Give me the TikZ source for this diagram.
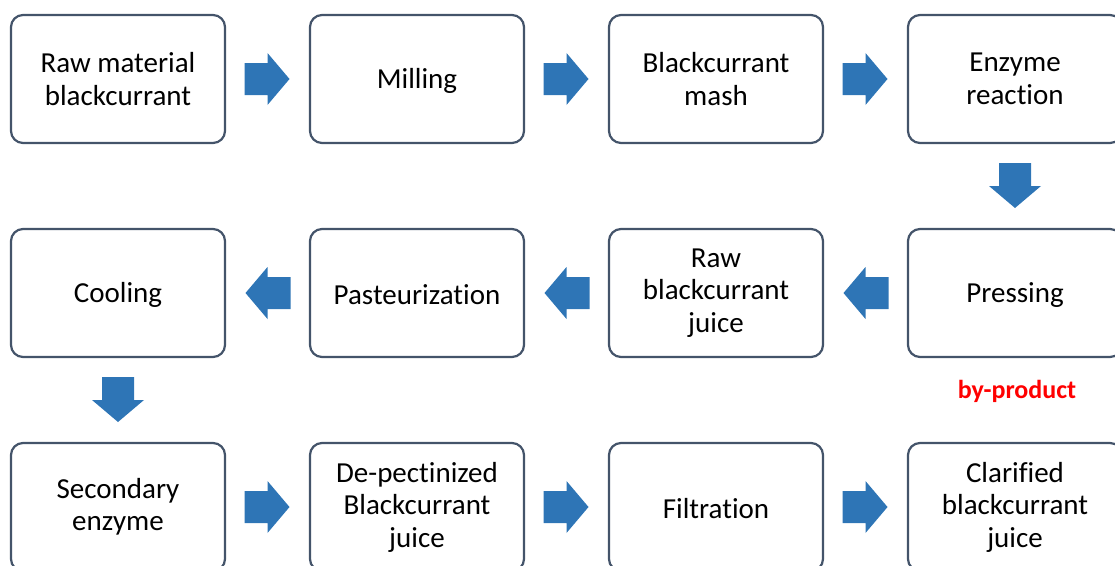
\documentclass[tikz,border=0pt]{standalone}
\usepackage{fontspec}
\setmainfont[Ligatures={NoCommon}]{Carlito}
\usetikzlibrary{calc}
\definecolor{boxline}{HTML}{44546A}
\definecolor{arrowblue}{HTML}{2E75B6}
\newcommand{\lowertext}[1]{\raisebox{-2pt}[\height][\depth]{#1}}
\tikzset{
  stepbox/.style={draw=boxline, line width=2.2pt, rounded corners=12pt, fill=white,
    minimum width=214pt, minimum height=128pt, inner sep=0pt,
    align=center, font=\fontsize{29}{32.5}\selectfont, text=black},
  flowarrow/.pic={\fill[arrowblue] (-23pt,-16pt) -- (0pt,-16pt) -- (0pt,-26pt) -- (22pt,0pt) -- (0pt,26pt) -- (0pt,16pt) -- (-23pt,16pt) -- cycle;},
  note/.style={text=red, font=\fontsize{26}{30}\selectfont\bfseries}
}
\begin{document}
\begin{tikzpicture}[x=1pt,y=-1pt]
\useasboundingbox (0,0) rectangle (1115,565);
% row 1
\node[stepbox] (raw) at (118,79) {Raw material\\blackcurrant};
\node[stepbox] (mill) at (417,79) {\lowertext{Milling}};
\node[stepbox] (mash) at (716,79) {Blackcurrant\\mash};
\node[stepbox] (enz) at (1015,79) {Enzyme\\reaction};
% row 2
\node[stepbox] (press) at (1015,293) {\lowertext{Pressing}};
\node[stepbox] (rjuice) at (716,293) {Raw\\blackcurrant\\juice};
\node[stepbox] (past) at (417,293) {\lowertext{Pasteurization}};
\node[stepbox] (cool) at (118,293) {\lowertext{Cooling}};
% row 3
\node[stepbox] (sec) at (118,507) {Secondary\\enzyme};
\node[stepbox] (depec) at (417,507) {De-pectinized\\Blackcurrant\\juice};
\node[stepbox] (filt) at (716,507) {\lowertext{Filtration}};
\node[stepbox] (clar) at (1015,507) {Clarified\\blackcurrant\\juice};
% by-product
\node[note] (byp) at (1017,391) {by-product};
% arrows
\path ($(raw.east)!0.5!(mill.west)$) pic {flowarrow};
\path ($(mill.east)!0.5!(mash.west)$) pic {flowarrow};
\path ($(mash.east)!0.5!(enz.west)$) pic {flowarrow};
\path ($(enz.south)!0.5!(press.north)$) pic[rotate=-90] {flowarrow};
\path ($(press.west)!0.5!(rjuice.east)$) pic[rotate=180] {flowarrow};
\path ($(rjuice.west)!0.5!(past.east)$) pic[rotate=180] {flowarrow};
\path ($(past.west)!0.5!(cool.east)$) pic[rotate=180] {flowarrow};
\path ($(cool.south)!0.5!(sec.north)$) pic[rotate=-90] {flowarrow};
\path ($(sec.east)!0.5!(depec.west)$) pic {flowarrow};
\path ($(depec.east)!0.5!(filt.west)$) pic {flowarrow};
\path ($(filt.east)!0.5!(clar.west)$) pic {flowarrow};
\end{tikzpicture}
\end{document}
